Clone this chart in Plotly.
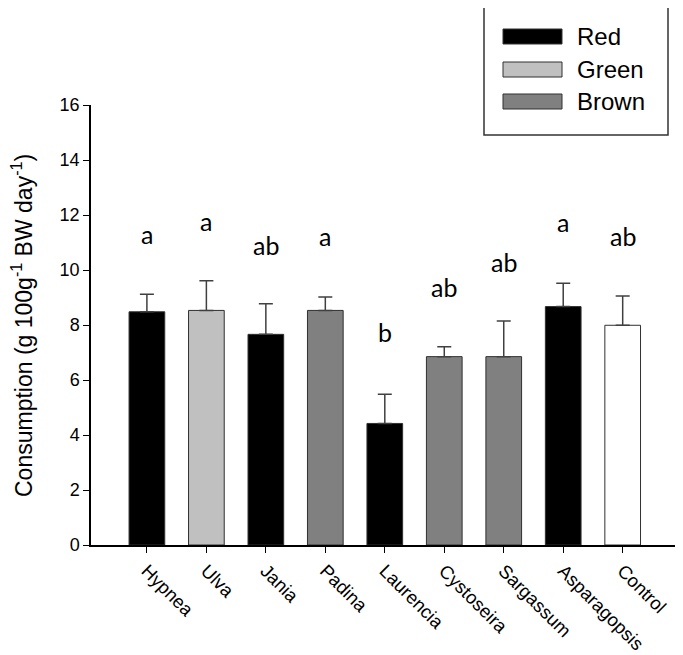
import plotly.graph_objects as go

# ---- data ----
categories = ["Hypnea", "Ulva", "Jania", "Padina", "Laurencia",
              "Cystoseira", "Sargassum", "Asparagopsis", "Control"]
groups = ["Red", "Green", "Red", "Brown", "Red", "Brown", "Brown", "Red", "Control"]
consumption = [8.48, 8.53, 7.66, 8.53, 4.42, 6.85, 6.85, 8.67, 7.99]
se = [0.64, 1.08, 1.11, 0.49, 1.06, 0.36, 1.30, 0.85, 1.06]
letters = ["a", "a", "ab", "a", "b", "ab", "ab", "a", "ab"]
letter_y = [11.3, 11.8, 10.9, 11.25, 7.75, 9.4, 10.3, 11.75, 11.25]
y_ticks = [0, 2, 4, 6, 8, 10, 12, 14, 16]
y_title = "Consumption (g 100g<sup>-1</sup> BW day<sup>-1</sup>)"

group_colors = {"Red": "#000000", "Green": "#c0c0c0", "Brown": "#808080", "Control": "#ffffff"}
legend_groups = ["Red", "Green", "Brown"]

# ---- layout geometry (window pixels) ----
W, H = 683, 655
OFF = 8  # default page body margin
L, R, T, B = 91, 678, 105, 545


def px_x(px):
    return (px - L) / (R - L)


def px_y(py):
    return (B - py) / (B - T)


fig = go.Figure()
fig.add_trace(go.Bar(
    x=categories,
    y=consumption,
    width=0.6,
    marker=dict(color=[group_colors[g] for g in groups],
                line=dict(color="#303030", width=1)),
    error_y=dict(type="data", symmetric=False, array=se,
                 arrayminus=[0] * len(se), color="#404040",
                 thickness=1.5, width=7),
    showlegend=False,
))

annotations = []
for c, t, yv in zip(categories, letters, letter_y):
    annotations.append(dict(x=c, y=yv, text=t, showarrow=False,
                            xref="x", yref="y",
                            font=dict(family="Lato", size=25, color="black")))

# y-axis title as a rotated annotation
annotations.append(dict(x=px_x(22), y=px_y(326), xref="paper", yref="paper",
                        text=y_title, textangle=-90, showarrow=False,
                        xanchor="center", yanchor="middle",
                        font=dict(family="Liberation Sans, Arial", size=23, color="black")))

# legend drawn manually (wide swatches)
shapes = [dict(type="rect", xref="paper", yref="paper",
               x0=px_x(484), x1=px_x(668), y0=px_y(135), y1=px_y(4),
               line=dict(color="#333333", width=1.5), fillcolor="white")]
sw_top = [29, 62, 94]
for g, top in zip(legend_groups, sw_top):
    shapes.append(dict(type="rect", xref="paper", yref="paper",
                       x0=px_x(503), x1=px_x(562), y0=px_y(top + 15), y1=px_y(top),
                       line=dict(color="#303030", width=1),
                       fillcolor=group_colors[g]))
    annotations.append(dict(x=px_x(575), y=px_y(top + 7.5), xref="paper", yref="paper",
                            text=g, showarrow=False, xanchor="left", yanchor="middle",
                            font=dict(family="Liberation Sans, Arial", size=24, color="black")))

fig.update_layout(
    width=W - OFF, height=H - OFF,
    margin=dict(l=L - OFF, r=W - R, t=T - OFF, b=H - B, pad=0),
    paper_bgcolor="white", plot_bgcolor="white",
    font=dict(family="Liberation Sans, Arial", color="black"),
    shapes=shapes,
    annotations=annotations,
)
fig.update_xaxes(
    range=[-0.94, 8.93],
    automargin=False,
    showline=True, linecolor="black", linewidth=1.5,
    ticks="outside", ticklen=6, tickcolor="black", tickwidth=1.2,
    tickangle=45, tickfont=dict(size=18.5, color="black"),
    showgrid=False, zeroline=False,
)
fig.update_yaxes(
    range=[0, 16],
    automargin=False,
    tickvals=y_ticks,
    showline=True, linecolor="black", linewidth=1.5,
    ticks="outside", ticklen=6, tickcolor="black", tickwidth=1.2,
    tickfont=dict(size=18, color="black"),
    showgrid=False, zeroline=False,
)

fig.write_html("out.html")
